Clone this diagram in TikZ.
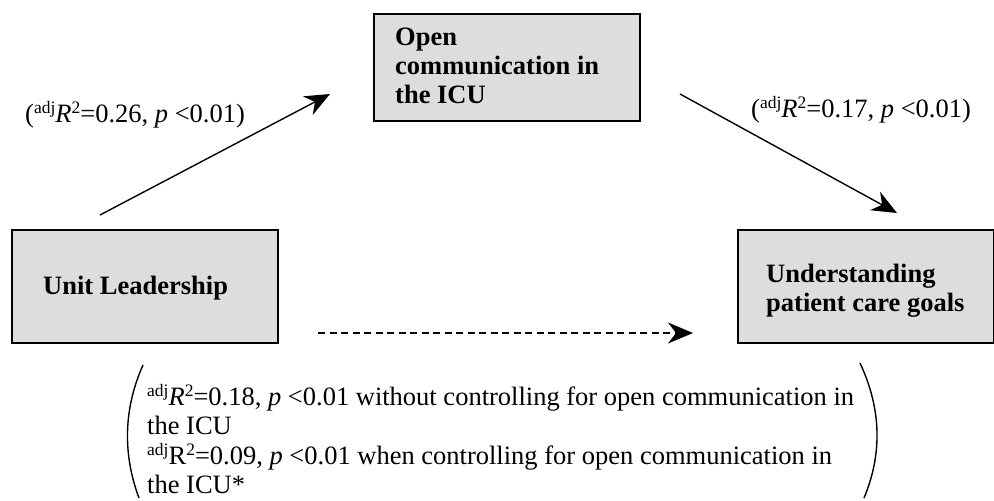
\documentclass[tikz,border=0pt]{standalone}
\usepackage{fontspec}
\setmainfont{Liberation Serif}
\usetikzlibrary{arrows.meta}
\definecolor{boxgray}{RGB}{221,221,221}
\newcommand\myup[1]{\raisebox{9pt}{\fontsize{17.5}{17.5}\selectfont #1}}
\begin{document}
\begin{tikzpicture}[x=1pt,y=-1pt,
  box/.style={draw=black, line width=1.5pt, fill=boxgray, inner sep=0pt, anchor=north west},
  boxtext/.style={font=\fontsize{26.5}{29}\selectfont\bfseries, align=left, anchor=base west, inner sep=0pt},
  lab/.style={font=\fontsize{26.5}{29.5}\selectfont, align=left, anchor=base west, inner sep=0pt},
  arr/.style={line width=1.4pt, -{Stealth[length=25pt,width=21pt,inset=8pt]}},
  paren/.style={line width=1.4pt}]
\useasboundingbox (0,0) rectangle (994,501);

% boxes
\node[box, minimum width=266pt, minimum height=107pt] (openbox) at (373,13) {};
\node[boxtext] (opentext) at (395,103) {Open\\communication in\\the ICU};

\node[box, minimum width=266pt, minimum height=113pt] (unitbox) at (11,229) {};
\node[boxtext] (unittext) at (43,294) {Unit Leadership};

\node[box, minimum width=256pt, minimum height=113pt] (undbox) at (737,229) {};
\node[boxtext] (undtext) at (766,311) {Understanding\\patient care goals};

% arrows
\coordinate (a1s) at (100,215);
\coordinate (a1e) at (330,94);
\coordinate (a2s) at (680,94);
\coordinate (a2e) at (897,213);
\coordinate (a3s) at (318,333);
\coordinate (a3e) at (693,333);
\draw[arr] (a1s) -- (a1e);
\draw[arr] (a2s) -- (a2e);
\draw[arr, dash pattern=on 7pt off 4.5pt] (a3s) -- (a3e);

% labels
\node[lab] (lab1) at (25,122) {(\myup{adj}\textit{R}\myup{2}=0.26, \textit{p} <0.01)};
\node[lab] (lab2) at (751,117) {(\myup{adj}\textit{R}\myup{2}=0.17, \textit{p} <0.01)};

\node[lab] (lab3) at (147,493.5) {\myup{adj}\textit{R}\myup{2}=0.18, \textit{p} <0.01 without controlling for open communication in\\the ICU\\\myup{adj}R\myup{2}=0.09, \textit{p} <0.01 when controlling for open communication in\\the ICU*};

% parentheses
\coordinate (lpt) at (143,365);
\coordinate (lpb) at (139,498);
\coordinate (rpt) at (860,363);
\coordinate (rpb) at (864,498);
\draw[paren] (lpt) .. controls (123,410) and (123,455) .. (lpb);
\draw[paren] (rpt) .. controls (882,410) and (882,455) .. (rpb);
\end{tikzpicture}
\end{document}
